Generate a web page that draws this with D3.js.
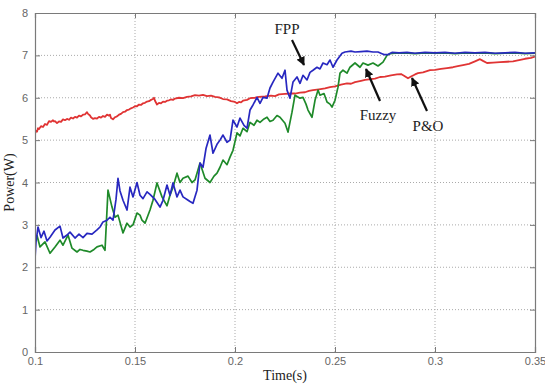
<!DOCTYPE html>
<html>
<head>
<meta charset="utf-8">
<script src="https://cdn.jsdelivr.net/npm/d3@7"></script>
<style>
  html, body { margin: 0; padding: 0; background: #fff; }
  svg { display: block; }
</style>
</head>
<body>
<svg id="chart" width="545" height="385"></svg>
<script>
// Tick values
const xTicks = [0.1, 0.15, 0.2, 0.25, 0.3, 0.35];
const yTicks = [0, 1, 2, 3, 4, 5, 6, 7, 8];

// Power tracked over time [t (s), P (W)]
const fpp = [
  [0.1, 2.2], [0.1005, 2.6], [0.1015, 2.95], [0.103, 2.7], [0.1045, 2.85], [0.106, 2.62],
  [0.1075, 2.71], [0.11, 2.88], [0.1125, 2.97], [0.114, 2.69], [0.116, 2.76], [0.1175, 2.83],
  [0.12, 2.69], [0.122, 2.78], [0.124, 2.7], [0.126, 2.8], [0.1285, 2.78], [0.131, 2.88],
  [0.1325, 2.95], [0.134, 3.07], [0.136, 3.11], [0.1375, 3.18], [0.139, 3.11], [0.1405, 3.6],
  [0.1415, 4.1], [0.1425, 3.8], [0.144, 3.58], [0.146, 3.35], [0.1475, 3.89], [0.149, 3.66],
  [0.151, 4.0], [0.1525, 3.7], [0.154, 3.62], [0.156, 3.78], [0.1575, 3.72], [0.16, 3.6],
  [0.1625, 3.42], [0.164, 3.58], [0.166, 3.94], [0.1675, 3.7], [0.169, 3.99], [0.171, 3.66],
  [0.1725, 3.82], [0.174, 3.66], [0.176, 3.6], [0.1775, 3.55], [0.179, 3.51], [0.181, 3.82],
  [0.1825, 4.46], [0.184, 4.36], [0.1855, 4.8], [0.1875, 5.12], [0.189, 4.69], [0.191, 4.9],
  [0.1925, 5.0], [0.194, 5.12], [0.196, 4.95], [0.1975, 5.0], [0.199, 5.47], [0.201, 5.31],
  [0.2025, 5.52], [0.2045, 5.35], [0.206, 5.28], [0.2075, 5.71], [0.209, 5.83], [0.211, 6.01],
  [0.2125, 5.87], [0.214, 6.01], [0.216, 5.99], [0.2175, 6.23], [0.219, 6.37], [0.2215, 6.58],
  [0.2235, 6.46], [0.225, 6.65], [0.226, 6.18], [0.2275, 5.99], [0.229, 6.37], [0.231, 6.49],
  [0.2325, 6.34], [0.234, 6.53], [0.236, 6.42], [0.2375, 6.6], [0.239, 6.65], [0.241, 6.72],
  [0.2425, 6.68], [0.244, 6.82], [0.246, 6.78], [0.2475, 6.89], [0.249, 6.72], [0.251, 6.89],
  [0.2535, 7.05], [0.255, 7.08], [0.258, 7.1], [0.26, 7.08], [0.263, 7.09], [0.266, 7.1],
  [0.269, 7.08], [0.2715, 7.08], [0.2735, 7.04], [0.2745, 7.02], [0.2765, 7.02], [0.2785, 7.07],
  [0.282, 7.06], [0.286, 7.07], [0.29, 7.05], [0.295, 7.07], [0.3, 7.06], [0.305, 7.07],
  [0.31, 7.05], [0.315, 7.07], [0.32, 7.06], [0.325, 7.07], [0.33, 7.05], [0.335, 7.06],
  [0.34, 7.07], [0.345, 7.05], [0.35, 7.06]
];

const fuzzy = [
  [0.1, 2.69], [0.101, 2.75], [0.1025, 2.48], [0.105, 2.6], [0.1075, 2.33], [0.11, 2.48],
  [0.1125, 2.64], [0.114, 2.52], [0.1165, 2.76], [0.1185, 2.45], [0.121, 2.36], [0.1225, 2.42],
  [0.124, 2.4], [0.126, 2.38], [0.1275, 2.36], [0.1295, 2.42], [0.131, 2.48], [0.1335, 2.52],
  [0.135, 2.4], [0.1365, 3.82], [0.1385, 3.42], [0.14, 3.18], [0.1415, 3.23], [0.144, 2.81],
  [0.146, 3.04], [0.1475, 2.95], [0.149, 3.0], [0.151, 3.28], [0.1525, 3.23], [0.1535, 3.11],
  [0.155, 3.04], [0.1575, 3.35], [0.159, 3.58], [0.161, 3.99], [0.1635, 3.66], [0.166, 3.45],
  [0.1675, 3.7], [0.169, 3.89], [0.171, 4.22], [0.1725, 4.0], [0.174, 4.1], [0.1765, 4.15],
  [0.1785, 4.0], [0.18, 4.06], [0.1825, 4.46], [0.185, 4.1], [0.1875, 4.0], [0.1895, 4.15],
  [0.191, 4.22], [0.1925, 4.36], [0.194, 4.53], [0.196, 4.42], [0.1975, 4.6], [0.199, 4.76],
  [0.201, 5.17], [0.2025, 5.1], [0.204, 5.28], [0.206, 5.2], [0.2075, 5.42], [0.2095, 5.35],
  [0.211, 5.47], [0.2125, 5.42], [0.2145, 5.5], [0.216, 5.54], [0.2175, 5.44], [0.219, 5.47],
  [0.221, 5.58], [0.2225, 5.54], [0.225, 5.4], [0.2265, 5.19], [0.2285, 5.66], [0.23, 6.06],
  [0.2325, 5.99], [0.234, 6.01], [0.2355, 5.85], [0.2365, 5.71], [0.2385, 5.54], [0.24, 5.94],
  [0.2415, 6.18], [0.2425, 6.06], [0.2445, 6.1], [0.246, 5.9], [0.2475, 5.85], [0.2485, 5.78],
  [0.25, 5.94], [0.2515, 6.25], [0.2525, 6.58], [0.254, 6.65], [0.256, 6.58], [0.2575, 6.72],
  [0.26, 6.82], [0.2625, 6.72], [0.264, 6.82], [0.2665, 6.77], [0.269, 6.82], [0.2715, 6.75],
  [0.274, 6.84], [0.276, 7.0], [0.2775, 7.04], [0.28, 7.05], [0.285, 7.06], [0.29, 7.04],
  [0.295, 7.06], [0.3, 7.05], [0.305, 7.06], [0.31, 7.04], [0.315, 7.06], [0.32, 7.05],
  [0.325, 7.06], [0.33, 7.04], [0.335, 7.05], [0.34, 7.06], [0.345, 7.04], [0.35, 7.05]
];

const po = [
  [0.1, 5.15], [0.1005, 5.22], [0.101, 5.2], [0.1015, 5.28], [0.102, 5.26], [0.103, 5.33],
  [0.104, 5.31], [0.105, 5.38], [0.106, 5.36], [0.107, 5.45], [0.108, 5.43], [0.109, 5.47],
  [0.1095, 5.44], [0.11, 5.45], [0.111, 5.4], [0.112, 5.44], [0.113, 5.43], [0.114, 5.49],
  [0.115, 5.47], [0.116, 5.5], [0.117, 5.48], [0.118, 5.53], [0.119, 5.51], [0.12, 5.55],
  [0.121, 5.53], [0.122, 5.58], [0.123, 5.56], [0.124, 5.6], [0.125, 5.61], [0.126, 5.66],
  [0.1265, 5.62], [0.1275, 5.58], [0.128, 5.54], [0.129, 5.5], [0.13, 5.52], [0.131, 5.51],
  [0.132, 5.55], [0.133, 5.53], [0.134, 5.57], [0.135, 5.55], [0.136, 5.6], [0.137, 5.58],
  [0.1375, 5.6], [0.138, 5.52], [0.139, 5.49], [0.14, 5.54], [0.141, 5.56], [0.142, 5.6],
  [0.143, 5.62], [0.144, 5.66], [0.145, 5.67], [0.146, 5.71], [0.147, 5.72], [0.148, 5.75],
  [0.149, 5.77], [0.15, 5.8], [0.151, 5.8], [0.152, 5.84], [0.153, 5.83], [0.154, 5.87],
  [0.155, 5.88], [0.156, 5.91], [0.157, 5.92], [0.158, 5.95], [0.159, 5.97], [0.1595, 6.0],
  [0.16, 5.93], [0.161, 5.84], [0.162, 5.88], [0.163, 5.87], [0.164, 5.91], [0.165, 5.9],
  [0.166, 5.93], [0.167, 5.94], [0.168, 5.96], [0.169, 5.95], [0.17, 5.98], [0.172, 6.0],
  [0.174, 5.99], [0.176, 6.02], [0.178, 6.03], [0.18, 6.06], [0.182, 6.05], [0.184, 6.07],
  [0.186, 6.04], [0.188, 6.05], [0.19, 6.02], [0.192, 6.01], [0.194, 5.97], [0.196, 5.96],
  [0.198, 5.92], [0.2, 5.9], [0.201, 5.87], [0.202, 5.9], [0.203, 5.89], [0.204, 5.93],
  [0.206, 5.95], [0.2075, 5.99], [0.21, 6.0], [0.212, 6.02], [0.215, 6.03], [0.218, 6.05],
  [0.22, 6.04], [0.222, 6.08], [0.225, 6.09], [0.228, 6.1], [0.23, 6.1], [0.2325, 6.12],
  [0.235, 6.13], [0.237, 6.16], [0.239, 6.18], [0.242, 6.2], [0.245, 6.22], [0.2475, 6.25],
  [0.25, 6.27], [0.253, 6.31], [0.256, 6.34], [0.258, 6.33], [0.26, 6.37], [0.263, 6.4],
  [0.265, 6.42], [0.268, 6.44], [0.27, 6.45], [0.2725, 6.49], [0.275, 6.5], [0.278, 6.53],
  [0.281, 6.55], [0.283, 6.56], [0.2845, 6.52], [0.2865, 6.46], [0.288, 6.5], [0.29, 6.55],
  [0.2915, 6.58], [0.294, 6.6], [0.2975, 6.65], [0.3, 6.66], [0.303, 6.68], [0.306, 6.7],
  [0.309, 6.72], [0.312, 6.75], [0.314, 6.77], [0.317, 6.8], [0.32, 6.86], [0.3225, 6.91],
  [0.324, 6.87], [0.326, 6.82], [0.329, 6.83], [0.3325, 6.84], [0.336, 6.85], [0.339, 6.86],
  [0.342, 6.89], [0.345, 6.92], [0.348, 6.94], [0.35, 6.97]
];

const series = [
  { name: "P&O", data: po, color: "#e03434", width: 1.8 },
  { name: "Fuzzy", data: fuzzy, color: "#1f8a2a", width: 1.7 },
  { name: "FPP", data: fpp, color: "#2828c0", width: 1.7 }
];

const svg = d3.select("#chart");
const margin = { left: 35, right: 10, top: 13, bottom: 33 };
const W = 545, H = 385;
const x = d3.scaleLinear().domain([0.1, 0.35]).range([margin.left, W - margin.right]);
const y = d3.scaleLinear().domain([0, 8]).range([H - margin.bottom, margin.top]);

const axisColor = "#7a7a7a";

// grid
const grid = svg.append("g");
grid.selectAll(".gx").data(xTicks.slice(1, -1)).join("line")
  .attr("x1", d => x(d)).attr("x2", d => x(d))
  .attr("y1", y(0)).attr("y2", y(8))
  .attr("stroke", "#aaa").attr("stroke-width", 1).attr("stroke-dasharray", "1,2");
grid.selectAll(".gy").data(yTicks.slice(1, -1)).join("line")
  .attr("x1", x(0.1)).attr("x2", x(0.35))
  .attr("y1", d => y(d)).attr("y2", d => y(d))
  .attr("stroke", "#aaa").attr("stroke-width", 1).attr("stroke-dasharray", "1,2");

// clip
svg.append("clipPath").attr("id", "plot-clip").append("rect")
  .attr("x", x(0.1)).attr("y", y(8)).attr("width", x(0.35) - x(0.1)).attr("height", y(0) - y(8));

const line = d3.line().x(d => x(d[0])).y(d => y(d[1]));
svg.append("g").attr("clip-path", "url(#plot-clip)")
  .selectAll("path").data(series).join("path")
  .attr("d", d => line(d.data))
  .attr("fill", "none")
  .attr("stroke", d => d.color)
  .attr("stroke-width", d => d.width)
  .attr("stroke-linejoin", "round");

// axes with inward ticks on all four sides
const tickFont = "Liberation Sans, Arial, sans-serif";
const axBottom = svg.append("g").attr("transform", `translate(0,${y(0)})`)
  .call(d3.axisBottom(x).tickValues(xTicks).tickSize(-5).tickPadding(5).tickFormat(d3.format("")));
const axLeft = svg.append("g").attr("transform", `translate(${x(0.1)},0)`)
  .call(d3.axisLeft(y).tickValues(yTicks).tickSize(-5).tickPadding(7).tickFormat(d3.format("d")));
const axTop = svg.append("g").attr("transform", `translate(0,${y(8)})`)
  .call(d3.axisTop(x).tickValues(xTicks).tickSize(-5).tickFormat(""));
const axRight = svg.append("g").attr("transform", `translate(${x(0.35)},0)`)
  .call(d3.axisRight(y).tickValues(yTicks).tickSize(-5).tickFormat(""));

[axBottom, axLeft, axTop, axRight].forEach(g => {
  g.select(".domain").attr("stroke", axisColor).attr("stroke-width", 1.2);
  g.selectAll(".tick line").attr("stroke", axisColor);
  g.selectAll(".tick text").attr("fill", "#666").attr("font-family", tickFont).attr("font-size", 11);
});

// axis titles
svg.append("text").attr("x", (x(0.1) + x(0.35)) / 2).attr("y", 380)
  .attr("text-anchor", "middle").attr("font-family", "Liberation Serif, Times New Roman, serif")
  .attr("font-size", 14).attr("fill", "#222").text("Time(s)");
svg.append("text").attr("transform", `translate(14,${(y(0) + y(8)) / 2}) rotate(-90)`)
  .attr("text-anchor", "middle").attr("font-family", "Liberation Serif, Times New Roman, serif")
  .attr("font-size", 14).attr("fill", "#222").text("Power(W)");

// curve annotations with arrows
svg.append("defs").append("marker").attr("id", "arrow")
  .attr("viewBox", "0 0 10 10").attr("refX", 9).attr("refY", 5)
  .attr("markerWidth", 4).attr("markerHeight", 4).attr("orient", "auto")
  .append("path").attr("d", "M0,0 L10,5 L0,10 z").attr("fill", "#111");

const notes = [
  { text: "FPP", tx: 287, ty: 34, x1: 292, y1: 40, x2: 304, y2: 65 },
  { text: "Fuzzy", tx: 378, ty: 120, x1: 380, y1: 101, x2: 366, y2: 69 },
  { text: "P&O", tx: 428, ty: 131, x1: 427, y1: 111, x2: 412, y2: 78 }
];
notes.forEach(n => {
  svg.append("text").attr("x", n.tx).attr("y", n.ty).attr("text-anchor", "middle")
    .attr("font-family", "Liberation Serif, Times New Roman, serif").attr("font-size", 15)
    .attr("fill", "#222").text(n.text);
  svg.append("line").attr("x1", n.x1).attr("y1", n.y1).attr("x2", n.x2).attr("y2", n.y2)
    .attr("stroke", "#111").attr("stroke-width", 2.2).attr("marker-end", "url(#arrow)");
});
</script>
</body>
</html>
